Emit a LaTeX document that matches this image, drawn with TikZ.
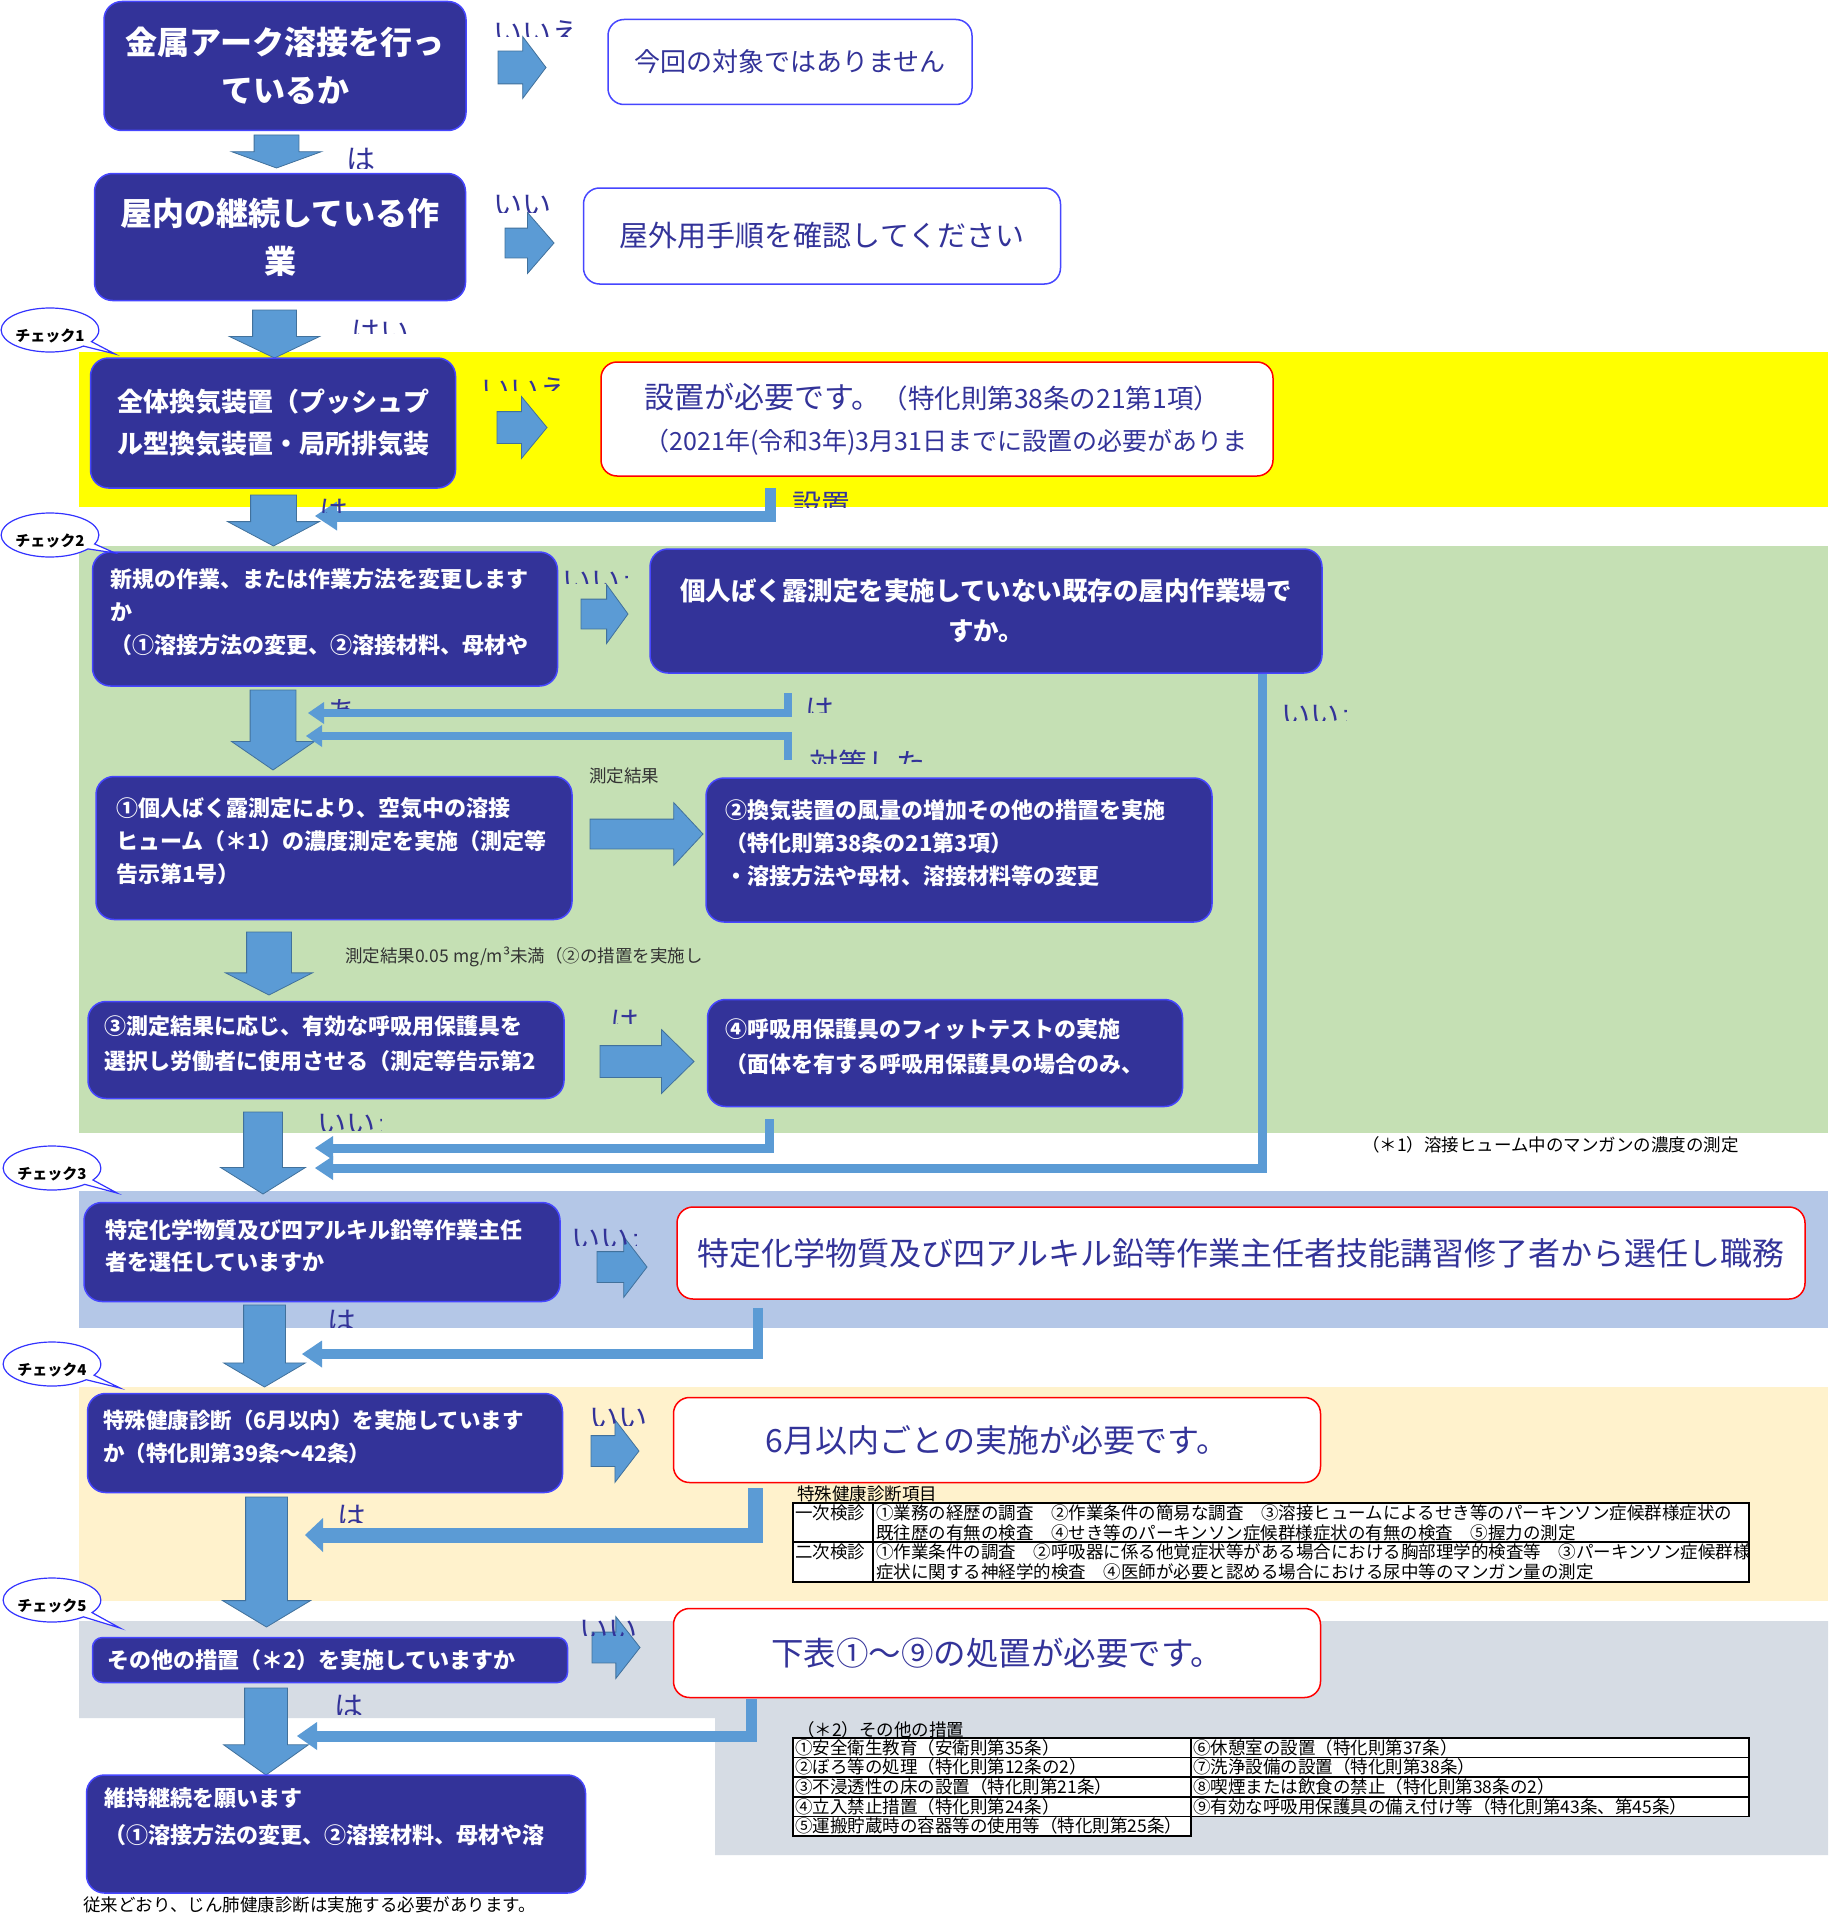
\documentclass[tikz,border=0pt]{standalone}
\usepackage{fontspec}
\setmainfont{Noto Sans CJK JP}
\usetikzlibrary{arrows.meta,shapes.arrows,shapes.callouts}

\definecolor{boxfill}{RGB}{51,51,153}
\definecolor{boxline}{RGB}{70,70,255}
\definecolor{labelblue}{RGB}{51,51,153}
\definecolor{arrowblue}{RGB}{91,155,213}
\definecolor{arrowedge}{RGB}{65,113,156}
\definecolor{bandyellow}{RGB}{255,255,0}
\definecolor{bandgreen}{RGB}{197,224,180}
\definecolor{bandblue}{RGB}{180,199,231}
\definecolor{bandbeige}{RGB}{255,242,204}
\definecolor{bandgrey}{RGB}{214,220,228}
\definecolor{redline}{RGB}{255,0,0}
\definecolor{calloutline}{RGB}{51,51,255}

\newcommand\jpsize[2]{\fontsize{#1}{#2}\selectfont}

\tikzset{
  qbox/.style={draw=boxline, fill=boxfill, line width=1.5pt, rounded corners=18pt, text=white, inner sep=0pt},
  ansbox/.style={draw=boxline, fill=white, line width=1.5pt, rounded corners=16pt, text=labelblue, inner sep=0pt},
  redbox/.style={draw=redline, fill=white, line width=1.5pt, rounded corners=16pt, text=labelblue, inner sep=0pt},
  fat/.style args={#1/#2/#3/#4/#5}{single arrow, draw=arrowedge, fill=arrowblue, line width=0.8pt, outer sep=0pt, anchor=tail,
    inner xsep=0pt, inner ysep=#5, minimum height=#1, minimum width=#2, single arrow head extend=#3, single arrow tip angle=#4},
  fatdown/.style={fat=#1, rotate=-90},
  ret/.style args={#1/#2/#3}{draw=arrowblue, line width=#1, -{Triangle[length=#2,width=#3,line width=0pt 0]}},
  lbl/.style={text=labelblue, font=\jpsize{29}{29}, inner sep=0pt},
  note/.style={text=black, font=\jpsize{17.5}{19.6}, inner sep=0pt},
  tblline/.style={draw=black, line width=1.6pt},
  check/.style={ellipse callout, draw=calloutline, fill=white, line width=1.2pt, minimum width=90, minimum height=44,
    inner sep=0pt, text height=22pt, text depth=0pt, text=black, font=\bfseries\jpsize{15}{15}},
}

\begin{document}
\begin{tikzpicture}[x=1pt, y=-1pt]
\useasboundingbox (0,0) rectangle (1828,1916);
\fill[white] (0,0) rectangle (1828,1916);

\fill[bandyellow] (79,352) rectangle (1828,507);
\fill[bandgreen] (79,546) rectangle (1828,1133);
\fill[bandblue] (79,1191) rectangle (1828,1328);
\fill[bandbeige] (79,1387) rectangle (1828,1601);
\fill[bandgrey] (79,1621) -- (1828,1621) -- (1828,1855) -- (715,1855) -- (715,1718) -- (79,1718) -- cycle;

\node[fat=48/61/14.5/106/16] (r1) at (498,67.5) {};
\node[fat=49/60/15.5/98/14.5] (r2) at (505,243) {};
\node[fat=50/61/15/101/15.5] (r3) at (497,427.5) {};
\node[fat=47/58/14.5/108/14.5] (r4) at (581,614) {};
\node[fat=113/62/16.5/94/14.5] (r5) at (590,834) {};
\node[fat=94/63/16/89/15.5] (r6) at (600,1061.5) {};
\node[fat=50/60/15/105/15] (r7) at (597,1267) {};
\node[fat=48/62/16/105/15] (r8) at (591,1451) {};
\node[fat=48/61/15.5/104/15] (r9) at (592,1647.5) {};
\node[fatdown=33/89/22.5/140/22] (d1) at (276.5,135) {};
\node[fatdown=48/89/23/129/21.5] (d2) at (274.5,310) {};
\node[fatdown=51/91/23/124/22.5] (d3) at (273.5,495) {};
\node[fatdown=80/82/18.5/111/22.5] (d4) at (273,690) {};
\node[fatdown=63/86/21/126/22] (d5) at (269,932) {};
\node[fatdown=82/84/23/116/19] (d6) at (263,1112) {};
\node[fatdown=82/81/20/119/20.5] (d7) at (264.5,1305) {};
\node[fatdown=130/87/23/118/20.5] (d8) at (266.5,1497) {};
\node[fatdown=87/84/21/109/21] (d9) at (266,1688) {};

\node[qbox, minimum width=362, minimum height=129, text width=340, align=center, font=\bfseries\jpsize{32}{48}] (qA) at (285,66) {金属アーク溶接を行っ\\ているか};
\node[ansbox, minimum width=364, minimum height=85, font=\jpsize{26}{26}] (aA) at (790,62) {今回の対象ではありません};
\node[qbox, minimum width=371, minimum height=127, text width=350, align=center, font=\bfseries\jpsize{32}{48}] (qB) at (280,237) {屋内の継続している作\\業};
\node[ansbox, minimum width=477, minimum height=96, font=\jpsize{29}{29}] (aB) at (822,236) {屋外用手順を確認してください};
\node[qbox, minimum width=365, minimum height=130, text width=340, align=center, font=\bfseries\jpsize{26}{42}] (qC) at (273,423) {全体換気装置（プッシュプ\\ル型換気装置・局所排気装};
\node[redbox, minimum width=672, minimum height=114, text width=585, align=left, font=\jpsize{25}{42}] (rC) at (937,419) {{\jpsize{30}{42}設置が必要です。}{\jpsize{26.5}{42}（特化則第38条の21第1項）}\\（2021年(令和3年)3月31日までに設置の必要がありま};
\node[qbox, minimum width=465, minimum height=134, text width=430, align=left, font=\bfseries\jpsize{22}{33}] (qD) at (325,619) {新規の作業、または作業方法を変更します\\か\\（①溶接方法の変更、②溶接材料、母材や\\[-18pt]\mbox{}};
\node[qbox, minimum width=672, minimum height=124, text width=640, align=center, font=\bfseries\jpsize{25.5}{40}] (qE) at (986,611) {個人ばく露測定を実施していない既存の屋内作業場で\\すか。};
\node[qbox, minimum width=476, minimum height=143, text width=436, align=left, font=\bfseries\jpsize{22}{33}] (qF) at (334,848) {①個人ばく露測定により、空気中の溶接\\ヒューム（＊1）の濃度測定を実施（測定等\\告示第1号）\\[-18pt]\mbox{}};
\node[qbox, minimum width=506, minimum height=144, text width=468, align=left, font=\bfseries\jpsize{22}{33}] (qG) at (959,850) {②換気装置の風量の増加その他の措置を実施\\（特化則第38条の21第3項）\\・溶接方法や母材、溶接材料等の変更\\[-18pt]\mbox{}};
\node[qbox, minimum width=476, minimum height=97, text width=444, align=left, font=\bfseries\jpsize{22}{35}] (qH) at (326,1050) {③測定結果に応じ、有効な呼吸用保護具を\\選択し労働者に使用させる（測定等告示第2\\[-20pt]\mbox{}};
\node[qbox, minimum width=475, minimum height=107, text width=440, align=left, font=\bfseries\jpsize{22}{35}] (qI) at (945,1053) {④呼吸用保護具のフィットテストの実施\\（面体を有する呼吸用保護具の場合のみ、\\[-20pt]\mbox{}};
\node[qbox, minimum width=476, minimum height=99, text width=434, align=left, font=\bfseries\jpsize{22}{32}] (qJ) at (322,1252) {特定化学物質及び四アルキル鉛等作業主任\\者を選任していますか\\[-18pt]\mbox{}};
\node[redbox, minimum width=1128, minimum height=92, font=\jpsize{32}{32}] (rJ) at (1241,1253) {特定化学物質及び四アルキル鉛等作業主任者技能講習修了者から選任し職務};
\node[qbox, minimum width=475, minimum height=99, text width=444, align=left, font=\bfseries\jpsize{21.5}{33}] (qL) at (325,1443) {特殊健康診断（6月以内）を実施しています\\か（特化則第39条～42条）\\[-18pt]\mbox{}};
\node[redbox, minimum width=647, minimum height=85, font=\jpsize{32}{32}] (rL) at (997,1440) {6月以内ごとの実施が必要です。};
\node[qbox, minimum width=475, minimum height=45, text width=446, align=left, rounded corners=10pt, font=\bfseries\jpsize{22}{22}] (qN) at (330,1660) {その他の措置（＊2）を実施していますか};
\node[redbox, minimum width=647, minimum height=89, font=\jpsize{32.5}{32.5}] (rN) at (997,1653) {下表①～⑨の処置が必要です。};
\node[qbox, minimum width=499, minimum height=118, text width=464, align=left, font=\bfseries\jpsize{22}{37}] (qP) at (336,1834) {維持継続を願います\\（①溶接方法の変更、②溶接材料、母材や溶\\\mbox{}};

\coordinate (t1) at (315,516);
\coordinate (t2) at (308,713);
\coordinate (t3) at (306,736);
\coordinate (t4) at (315,1148);
\coordinate (t5) at (315,1168);
\coordinate (t6) at (302,1354);
\coordinate (t7) at (305,1535);
\coordinate (t8) at (297,1736);
\coordinate (s2) at (788,693);
\coordinate (s3) at (788,760);
\draw[ret=11pt/22pt/29pt] ([xshift=170pt,yshift=-11pt]rC.south west) |- (t1);
\draw[ret=8pt/16pt/22pt] (s2) |- (t2);
\draw[ret=8pt/16pt/22pt] (s3) |- (t3);
\draw[ret=9pt/18pt/24pt] ([xshift=613pt]qE.south west) |- (t5);
\draw[ret=9pt/18pt/24pt] ([xshift=63pt,yshift=-12pt]qI.south west) |- (t4);
\draw[ret=10pt/20pt/27pt] ([xshift=82pt,yshift=-8pt]rJ.south west) |- (t6);
\draw[ret=15pt/18pt/34pt] ([xshift=83pt,yshift=-5pt]rL.south west) |- (t7);
\draw[ret=11pt/20pt/28pt] ([xshift=79pt,yshift=-1pt]rN.south west) |- (t8);

\foreach \nm/\lx/\ly/\rx/\ry/\txt in {
  no1/493/44/600/37/いいえ, ye1/346/170/374/168/はい, no2/493/215/551/212/いいえ,
  ye2/351/342/420/333/はい, no3/481/400/600/390/いいえ, ye3/319/521/348/512/はい,
  st1/792/515/870/507/設置, no4/562/591/627/583/いいえ, ye4/805/720/832/712/はい,
  ar1/327/722/360/708/あ, td1/809/774/950/763/対策した, no5/1281/725/1346/720/いいえ,
  ye5/610/1032/638/1023/はい, no6/317/1134/381/1130/いいえ, no7/571/1249/636/1245/いいえ,
  ye6/327/1332/355/1327/はい, no8/589/1428/651/1425/いいえ, ye7/337/1527/365/1522/はい,
  no9/579/1640/641/1635/いいえ, ye8/334/1717/362/1714/はい}
{
  \begin{scope}
    \clip (\lx-6,\ly-42) rectangle (\rx,\ry);
    \node[lbl, anchor=base west] (\nm) at (\lx,\ly) {\txt};
  \end{scope}
}

\node[note, anchor=west, text=black!80] (m1) at (589,776) {測定結果};
\node[note, anchor=west, text=black!80] (m2) at (345,957) {測定結果0.05 mg/m³未満（②の措置を実施し};
\node[note, anchor=west] (fn1) at (1362,1145) {（＊1）溶接ヒューム中のマンガンの濃度の測定};
\node[note, anchor=west] (fn2) at (83,1905) {従来どおり、じん肺健康診断は実施する必要があります。};

\node[note, anchor=west] (t1h) at (797,1494) {特殊健康診断項目};
\draw[tblline, fill=white] (793,1503) rectangle (1749,1582);
\draw[tblline] (793,1542) -- (1749,1542) (873,1503) -- (873,1582);
\node[note, anchor=west] (t1a) at (795,1513) {一次検診};
\node[note, anchor=west] (t1b) at (795,1552) {二次検診};
\node[note, anchor=west] (t1c) at (876,1513) {①業務の経歴の調査　②作業条件の簡易な調査　③溶接ヒュームによるせき等のパーキンソン症候群様症状の};
\node[note, anchor=west] (t1d) at (876,1533) {既往歴の有無の検査　④せき等のパーキンソン症候群様症状の有無の検査　⑤握力の測定};
\node[note, anchor=west] (t1e) at (876,1552) {①作業条件の調査　②呼吸器に係る他覚症状等がある場合における胸部理学的検査等　③パーキンソン症候群様};
\node[note, anchor=west] (t1f) at (876,1572) {症状に関する神経学的検査　④医師が必要と認める場合における尿中等のマンガン量の測定};

\node[note, anchor=west] (t2h) at (797,1730) {（＊2）その他の措置};
\draw[tblline, fill=white] (793,1738) rectangle (1749,1816.4);
\draw[tblline, fill=white] (793,1816.4) rectangle (1191,1836);
\foreach \y in {1757.6,1777.2,1796.8} \draw[tblline] (793,\y) -- (1749,\y);
\draw[tblline] (1191,1738) -- (1191,1816.4);
\foreach \txt [count=\i] in {①安全衛生教育（安衛則第35条）, ②ぼろ等の処理（特化則第12条の2）, ③不浸透性の床の設置（特化則第21条）, ④立入禁止措置（特化則第24条）, ⑤運搬貯蔵時の容器等の使用等（特化則第25条）}
  \node[note, anchor=west] (t2l\i) at (795,1728+19.6*\i) {\txt};
\foreach \txt [count=\i] in {⑥休憩室の設置（特化則第37条）, ⑦洗浄設備の設置（特化則第38条）, ⑧喫煙または飲食の禁止（特化則第38条の2）, ⑨有効な呼吸用保護具の備え付け等（特化則第43条、第45条）}
  \node[note, anchor=west] (t2r\i) at (1193,1728+19.6*\i) {\txt};

\node[check, callout absolute pointer={(115,354)}] (ck1) at (50,330) {チェック1};
\node[check, callout absolute pointer={(115,553)}] (ck2) at (50,535) {チェック2};
\node[check, callout absolute pointer={(117,1193)}] (ck3) at (52,1168) {チェック3};
\node[check, callout absolute pointer={(120,1388)}] (ck4) at (52,1364) {チェック4};
\node[check, callout absolute pointer={(120,1628)}] (ck5) at (52,1600) {チェック5};
\end{tikzpicture}
\end{document}
